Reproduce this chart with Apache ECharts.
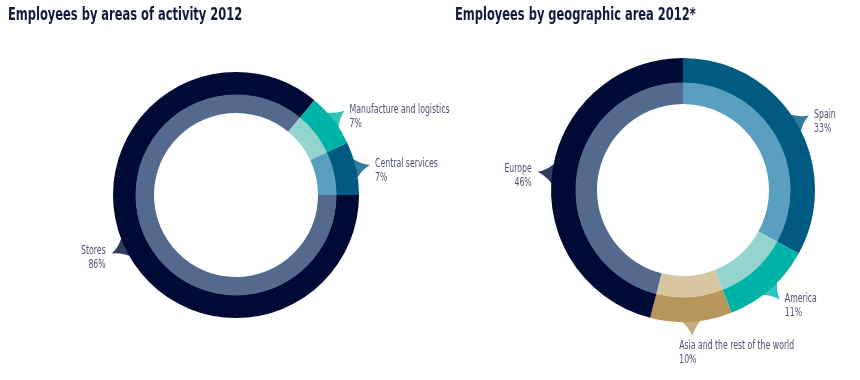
<!DOCTYPE html>
<html>
<head>
<meta charset="utf-8">
<script src="https://cdn.jsdelivr.net/npm/echarts@6/dist/echarts.min.js"></script>
<style>
  html, body { margin: 0; padding: 0; background: #ffffff; }
  #chart { width: 860px; height: 380px; }
</style>
</head>
<body>
<div id="chart"></div>
<script>
// ---- data ----
const leftTitle = 'Employees by areas of activity 2012';
const rightTitle = 'Employees by geographic area 2012*';
const leftCategories = ['Stores', 'Manufacture and logistics', 'Central services'];
const leftValues = [86, 7, 7];
const rightCategories = ['Spain', 'America', 'Asia and the rest of the world', 'Europe'];
const rightValues = [33, 11, 10, 46];

// ---- styles ----
const outerColors = {
  'Stores': '#000b35', 'Europe': '#000b35',
  'Manufacture and logistics': '#00b3a7', 'America': '#00b3a7',
  'Central services': '#005a82', 'Spain': '#005a82',
  'Asia and the rest of the world': '#b6965c'
};
const innerColors = {
  'Stores': '#536a8e', 'Europe': '#536a8e',
  'Manufacture and logistics': '#94d4cf', 'America': '#94d4cf',
  'Central services': '#5b9fc0', 'Spain': '#5b9fc0',
  'Asia and the rest of the world': '#d8c6a0'
};
const FONT = '"DejaVu Sans Condensed", "Liberation Sans Narrow", "DejaVu Sans", sans-serif';
const labelColor = '#4d5073';
const titleColor = '#131b3b';
const pointerPath = 'path://M10,0 Q12.5,9.5 19,16 L19,20 L1,20 L1,16 Q7,9 10,0 Z';
const TITLE_SCALE = 0.75, LABEL_SCALE = 0.72;

const layouts = [
  { center: [236, 195], r0: 82, r1: 100, r2: 123, start: 0 },
  { center: [683, 190], r0: 86, r1: 107, r2: 132, start: 90 }
];

const series = [], polar = [], angleAxis = [], radiusAxis = [], labelJobs = [];

function addDonut(idx, cats, vals, L) {
  const total = vals.reduce((a, b) => a + b, 0);
  const common = {
    type: 'pie', center: L.center, startAngle: L.start, clockwise: true,
    silent: true, label: { show: false }, labelLine: { show: false },
    itemStyle: { borderWidth: 0 }, emphasis: { disabled: true }
  };
  series.push(Object.assign({}, common, {
    radius: [L.r1, L.r2],
    data: cats.map((c, i) => ({ name: c, value: vals[i], itemStyle: { color: outerColors[c] } }))
  }));
  series.push(Object.assign({}, common, {
    radius: [L.r0, L.r1 + 0.5],
    data: cats.map((c, i) => ({ name: c, value: vals[i], itemStyle: { color: innerColors[c] } }))
  }));

  const pr = L.r2 + 30;
  polar.push({ center: L.center, radius: pr });
  angleAxis.push({
    polarIndex: idx, type: 'value', min: 0, max: total, startAngle: L.start, clockwise: true,
    axisLine: { show: false }, axisTick: { show: false }, axisLabel: { show: false }, splitLine: { show: false }
  });
  radiusAxis.push({
    polarIndex: idx, type: 'value', min: 0, max: pr,
    axisLine: { show: false }, axisTick: { show: false }, axisLabel: { show: false }, splitLine: { show: false }
  });

  let acc = 0;
  const seriesIndex = series.length;
  const pts = cats.map((c, i) => {
    const mid = acc + vals[i] / 2;
    acc += vals[i];
    const theta = L.start - mid / total * 360;          // math angle, ccw from east
    labelJobs.push({ seriesIndex, name: c, pct: vals[i], tipR: L.r2 + 14.4, mid, theta });
    return {
      name: c, value: [L.r2 + 5.4, mid],
      symbolRotate: theta - 90,
      itemStyle: { color: outerColors[c] }
    };
  });
  series.push({
    type: 'scatter', coordinateSystem: 'polar', polarIndex: idx, silent: true,
    symbol: pointerPath, symbolSize: [18, 18], z: 1,
    data: pts, label: { show: false }
  });
}

addDonut(0, leftCategories, leftValues, layouts[0]);
addDonut(1, rightCategories, rightValues, layouts[1]);

const chart = echarts.init(document.getElementById('chart'), null, { renderer: 'canvas' });
chart.setOption({
  animation: false,
  backgroundColor: '#ffffff',
  polar, angleAxis, radiusAxis,
  series
});

// ---- titles and callout labels (text anchored through the polar scales) ----
const graphic = [
  { type: 'text', x: 8, y: 16, scaleX: TITLE_SCALE, silent: true,
    style: { text: leftTitle, x: 0, y: 0, font: 'bold 17px ' + FONT, fill: titleColor, verticalAlign: 'middle', align: 'left' } },
  { type: 'text', x: 455, y: 16, scaleX: TITLE_SCALE, silent: true,
    style: { text: rightTitle, x: 0, y: 0, font: 'bold 17px ' + FONT, fill: titleColor, verticalAlign: 'middle', align: 'left' } }
];
labelJobs.forEach(j => {
  const tip = chart.convertToPixel({ seriesIndex: j.seriesIndex }, [j.tipR, j.mid]);
  const cx = Math.cos(j.theta * Math.PI / 180);
  let x, y, align;
  if (cx > 0.3) { x = tip[0] + 5; y = tip[1] - 8; align = 'left'; }
  else if (cx < -0.3) { x = tip[0] - 6; y = tip[1] - 10; align = 'right'; }
  else { x = tip[0] - 13; y = tip[1] + 3; align = 'left'; }
  graphic.push({
    type: 'text', x, y, scaleX: LABEL_SCALE, silent: true,
    style: {
      text: j.name + '\n' + j.pct + '%', x: 0, y: 0, font: '12px ' + FONT,
      fill: labelColor, align, verticalAlign: 'top', lineHeight: 14
    }
  });
});
chart.setOption({ graphic });
</script>
</body>
</html>
